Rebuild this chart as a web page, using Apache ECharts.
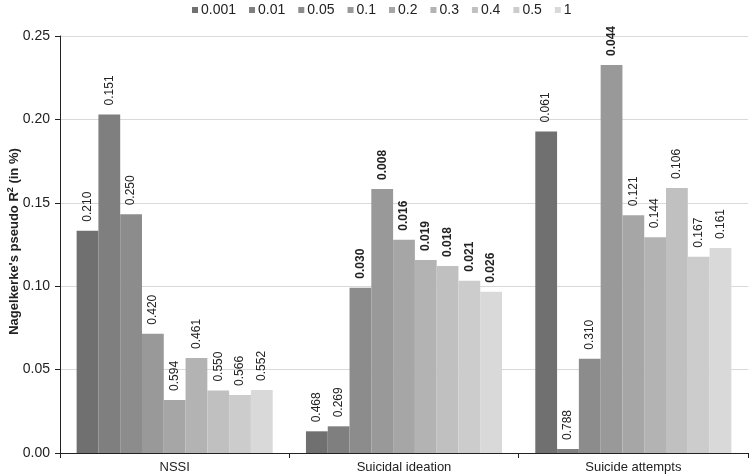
<!DOCTYPE html>
<html><head><meta charset="utf-8">
<script src="https://cdn.jsdelivr.net/npm/echarts@6/dist/echarts.min.js"></script>
<style>html,body{margin:0;padding:0;background:#fff}#c{width:750px;height:476px}</style>
</head><body><div id="c"></div>
<script>
const categories = ['NSSI', 'Suicidal ideation', 'Suicide attempts'];
const thresholds = ['0.001', '0.01', '0.05', '0.1', '0.2', '0.3', '0.4', '0.5', '1'];
// R2 values per threshold: [NSSI, Suicidal ideation, Suicide attempts]
const v0001 = [0.1333, 0.0130, 0.1928];
const v001  = [0.2030, 0.0160, 0.0024];
const v005  = [0.1431, 0.0991, 0.0565];
const v01   = [0.0715, 0.1583, 0.2326];
const v02   = [0.0318, 0.1279, 0.1425];
const v03   = [0.0570, 0.1157, 0.1293];
const v04   = [0.0374, 0.1121, 0.1589];
const v05   = [0.0348, 0.1033, 0.1177];
const v1    = [0.0378, 0.0967, 0.1229];
// p-value labels per threshold
const p0001 = ['0.210', '0.468', '0.061'];
const p001  = ['0.151', '0.269', '0.788'];
const p005  = ['0.250', '0.030', '0.310'];
const p01   = ['0.420', '0.008', '0.044'];
const p02   = ['0.594', '0.016', '0.121'];
const p03   = ['0.461', '0.019', '0.144'];
const p04   = ['0.550', '0.018', '0.106'];
const p05   = ['0.566', '0.021', '0.167'];
const p1    = ['0.552', '0.026', '0.161'];
// significant (bold) flags
const b0001 = [0, 0, 0];
const b001  = [0, 0, 0];
const b005  = [0, 1, 0];
const b01   = [0, 1, 1];
const b02   = [0, 1, 0];
const b03   = [0, 1, 0];
const b04   = [0, 1, 0];
const b05   = [0, 1, 0];
const b1    = [0, 1, 0];
const yTicks = ['0.00', '0.05', '0.10', '0.15', '0.20', '0.25'];

const values = [v0001, v001, v005, v01, v02, v03, v04, v05, v1];
const pvals = [p0001, p001, p005, p01, p02, p03, p04, p05, p1];
const bolds = [b0001, b001, b005, b01, b02, b03, b04, b05, b1];
const colors = ['#707070', '#7f7f7f', '#8c8c8c', '#999999', '#a6a6a6', '#b3b3b3', '#c0c0c0', '#cccccc', '#d9d9d9'];

const font = 'Liberation Sans, Arial, sans-serif';
const series = thresholds.map((t, i) => ({
  name: t,
  type: 'bar',
  barGap: '0%',
  barCategoryGap: '14.5%',
  itemStyle: { color: colors[i] },
  data: values[i].map((v, j) => ({
    value: v,
    label: {
      show: true,
      position: 'top',
      rotate: 90,
      align: 'left',
      verticalAlign: 'middle',
      distance: 9,
      formatter: pvals[i][j],
      fontFamily: font,
      fontSize: 12,
      color: '#222',
      fontWeight: bolds[i][j] ? 'bold' : 'normal'
    }
  })),
  animation: false
}));

const chart = echarts.init(document.getElementById('c'));
chart.setOption({
  animation: false,
  textStyle: { fontFamily: font },
  legend: {
    top: -2,
    left: 187,
    itemWidth: 6,
    itemHeight: 6,
    itemGap: 13,
    icon: 'rect',
    textStyle: { fontSize: 14, color: '#222', fontFamily: font, padding: [0, 0, 0, -2] },
    data: thresholds
  },
  grid: { left: 60, right: 2, top: 36, bottom: 23, containLabel: false, outerBoundsMode: 'none' },
  xAxis: {
    type: 'category',
    data: categories,
    axisLine: { lineStyle: { color: '#222' } },
    axisTick: { show: true, alignWithLabel: false, lineStyle: { color: '#222' }, length: 5 },
    axisLabel: { color: '#222', fontSize: 13, fontFamily: font, margin: 8 }
  },
  yAxis: {
    type: 'value',
    min: 0,
    max: 0.25,
    interval: 0.05,
    name: '{a|Nagelkerke\'s pseudo R}{s|2}{a| (in %)}',
    nameLocation: 'middle',
    nameGap: 38,
    nameMoveOverlap: false,
    nameTextStyle: {
      padding: [0, 0, 0, 6],
      rich: {
        a: { fontWeight: 'bold', fontSize: 13, color: '#222', fontFamily: font },
        s: { fontWeight: 'bold', fontSize: 9, color: '#222', fontFamily: font, verticalAlign: 'top', padding: [0, 0, 7, 0] }
      }
    },
    axisLine: { show: true, lineStyle: { color: '#222' } },
    axisTick: { show: true, lineStyle: { color: '#222' }, length: 5 },
    axisLabel: {
      color: '#222', fontSize: 14, fontFamily: font, margin: 10,
      formatter: (v) => yTicks[Math.round(v / 0.05)]
    },
    splitLine: { lineStyle: { color: '#d9d9d9' } }
  },
  series: series
});
</script></body></html>
